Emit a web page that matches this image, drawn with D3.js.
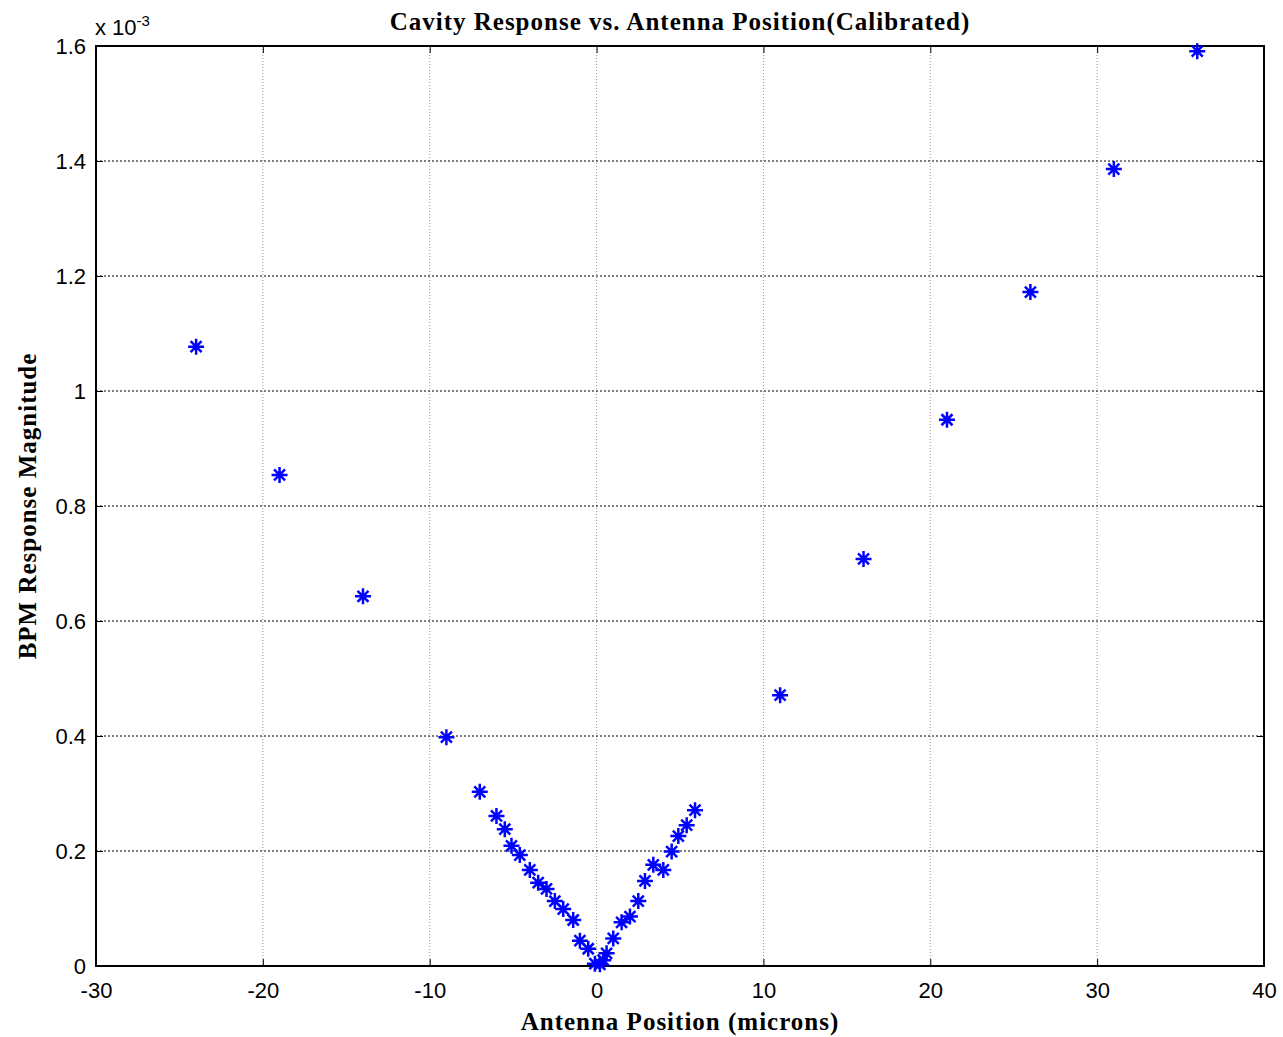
<!DOCTYPE html>
<html>
  <head>
    <meta charset="utf-8">
    <script src="https://d3js.org/d3.v7.min.js"></script>
    <style>
      body { margin: 0; background: #fff; }
      .tick text { font-family: "Liberation Sans", Arial, sans-serif; }
      .serif { font-family: "Liberation Serif", "Times New Roman", serif; font-weight: bold; letter-spacing: 1px; }
    </style>
  </head>
  <body>
    <svg id="plot" width="1283" height="1037"></svg>
    <script>
      // antenna position (microns)
      const positions = [-24, -19, -14, -9, -7, -6, -5.5, -5.1, -4.6, -4, -3.5, -3, -2.5, -2, -1.4, -1, -0.5, -0.1, 0.2, 0.4, 0.6,
                         1, 1.5, 2, 2.5, 2.9, 3.4, 4, 4.5, 4.9, 5.4, 5.9, 11, 16, 21, 26, 31, 36];
      // BPM response magnitude (x 10^-3)
      const responses = [1.077, 0.854, 0.643, 0.398, 0.303, 0.261, 0.238, 0.209, 0.193, 0.167, 0.145, 0.134, 0.113, 0.099, 0.080, 0.044, 0.030, 0.004, 0.003, 0.010, 0.022,
                         0.048, 0.076, 0.086, 0.113, 0.148, 0.176, 0.167, 0.199, 0.226, 0.245, 0.271, 0.471, 0.708, 0.950, 1.172, 1.386, 1.591];
      const xTicks = [-30, -20, -10, 0, 10, 20, 30, 40];
      const yTicks = [0, 0.2, 0.4, 0.6, 0.8, 1, 1.2, 1.4, 1.6];

      const margin = { top: 46, right: 19, bottom: 71, left: 96 };
      const svg = d3.select("#plot");
      const width = +svg.attr("width") - margin.left - margin.right;
      const height = +svg.attr("height") - margin.top - margin.bottom;

      const xScale = d3.scaleLinear().domain([-30, 40]).range([0, width]);
      const yScale = d3.scaleLinear().domain([0, 1.6]).range([height, 0]);

      const g = svg.append("g")
        .attr("transform", "translate(" + margin.left + "," + margin.top + ")");

      // grid
      g.selectAll(".vgrid")
        .data(xTicks.slice(1, -1))
        .enter().append("line")
        .attr("x1", d => xScale(d)).attr("x2", d => xScale(d))
        .attr("y1", 0).attr("y2", height)
        .attr("stroke", "#999").attr("stroke-width", 1)
        .attr("stroke-dasharray", "1,2");

      g.selectAll(".hgrid")
        .data(yTicks.slice(1, -1))
        .enter().append("line")
        .attr("x1", 0).attr("x2", width)
        .attr("y1", d => yScale(d)).attr("y2", d => yScale(d))
        .attr("stroke", "#000").attr("stroke-width", 1)
        .attr("stroke-dasharray", "2,2");

      // axes
      g.append("g")
        .attr("transform", "translate(0," + height + ")")
        .call(d3.axisBottom(xScale).tickValues(xTicks).tickFormat(d => String(d)).tickSize(-7).tickPadding(16));
      g.append("g")
        .call(d3.axisLeft(yScale).tickValues(yTicks).tickFormat(d => d === 0 || d === 1 ? String(d) : d.toFixed(1)).tickSize(-7).tickPadding(10));

      // top and right ticks
      g.append("g")
        .call(d3.axisTop(xScale).tickValues(xTicks).tickFormat("").tickSize(-7));
      g.append("g")
        .attr("transform", "translate(" + width + ",0)")
        .call(d3.axisRight(yScale).tickValues(yTicks).tickFormat("").tickSize(-7));

      g.selectAll(".domain").remove();
      g.selectAll(".tick line").attr("stroke", "#000");
      g.selectAll(".tick text").attr("font-size", 22).attr("fill", "#000");

      // box
      g.append("rect")
        .attr("width", width).attr("height", height)
        .attr("fill", "none").attr("stroke", "#000").attr("stroke-width", 2);

      // markers
      const data = positions.map((p, i) => ({ x: p, y: responses[i] }));
      const star = "M-8,0L8,0M0,-8L0,8M-5.5,-5.5L5.5,5.5M-5.5,5.5L5.5,-5.5";
      g.selectAll(".pt")
        .data(data)
        .enter().append("path")
        .attr("transform", d => "translate(" + xScale(d.x) + "," + yScale(d.y) + ")")
        .attr("d", star)
        .attr("stroke", "#0000ff")
        .attr("stroke-width", 2.5)
        .attr("fill", "none");

      // exponent
      const ex = svg.append("text")
        .attr("x", 95).attr("y", 35)
        .attr("font-family", "Liberation Sans, Arial, sans-serif")
        .attr("font-size", 22);
      ex.append("tspan").text("x 10");
      ex.append("tspan").attr("dy", -9).attr("font-size", 15).text("-3");

      // title
      svg.append("text")
        .attr("class", "serif")
        .attr("x", margin.left + width / 2).attr("y", 30)
        .attr("text-anchor", "middle")
        .attr("font-size", 25)
        .text("Cavity Response vs. Antenna Position(Calibrated)");

      // axis labels
      svg.append("text")
        .attr("class", "serif")
        .attr("x", margin.left + width / 2).attr("y", 1030)
        .attr("text-anchor", "middle")
        .attr("font-size", 25)
        .text("Antenna Position (microns)");

      svg.append("text")
        .attr("class", "serif")
        .attr("transform", "translate(36," + (margin.top + height / 2) + ") rotate(-90)")
        .attr("text-anchor", "middle")
        .attr("font-size", 25)
        .text("BPM Response Magnitude");
    </script>
  </body>
</html>
